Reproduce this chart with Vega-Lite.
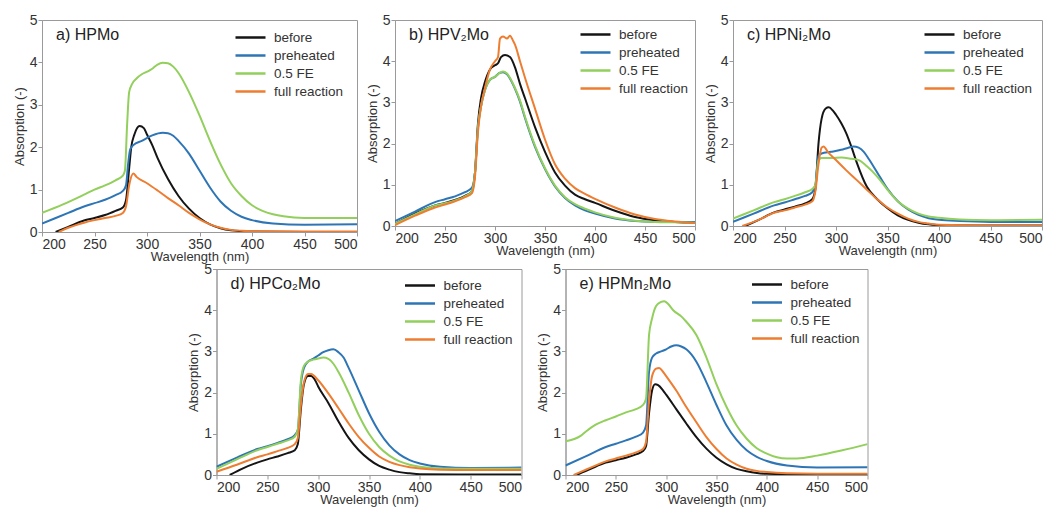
{
  "$schema": "https://vega.github.io/schema/vega-lite/v6.json",
  "padding": {"left": 12, "top": 12, "right": 0, "bottom": 0},
  "background": "white",
  "config": {
    "font": "Liberation Sans",
    "view": {"stroke": "#9a9a9a", "strokeWidth": 1},
    "axis": {"grid": false, "labelFont": "Liberation Sans", "labelFontSize": 14, "labelColor": "#333333", "titleFont": "Liberation Sans", "titleFontSize": 13, "titleFontWeight": "normal", "titleColor": "#333333", "domainColor": "#9a9a9a", "tickColor": "#9a9a9a", "tickSize": 4, "labelPadding": 1},
    "axisX": {"titlePadding": -1},
    "axisY": {"titlePadding": 3},
    "legend": {"orient": "none", "legendX": 186, "legendY": 0, "title": null, "labelFont": "Liberation Sans", "labelFontSize": 13.5, "labelColor": "#333333", "symbolType": "M-1.5,0H1.5", "symbolSize": 400, "symbolStrokeWidth": 2.5, "rowPadding": -1.3, "labelOffset": 12},
    "title": {"anchor": "start", "frame": "group", "offset": -30, "dx": 14, "fontSize": 16, "fontWeight": "normal", "font": "Liberation Sans", "color": "#222222"}
  },
  "data": {"values": [
    {"p":"a","s":"before","w":213,"A":0},{"p":"a","s":"before","w":225,"A":0.12},{"p":"a","s":"before","w":240,"A":0.27},{"p":"a","s":"before","w":250,"A":0.33},{"p":"a","s":"before","w":260,"A":0.4},{"p":"a","s":"before","w":270,"A":0.5},{"p":"a","s":"before","w":277,"A":0.58},{"p":"a","s":"before","w":280,"A":0.75},{"p":"a","s":"before","w":283,"A":1.5},{"p":"a","s":"before","w":285,"A":2.0},{"p":"a","s":"before","w":288,"A":2.3},{"p":"a","s":"before","w":293,"A":2.5},{"p":"a","s":"before","w":297,"A":2.45},{"p":"a","s":"before","w":300,"A":2.3},{"p":"a","s":"before","w":305,"A":2.05},{"p":"a","s":"before","w":310,"A":1.75},{"p":"a","s":"before","w":320,"A":1.25},{"p":"a","s":"before","w":330,"A":0.85},{"p":"a","s":"before","w":340,"A":0.55},{"p":"a","s":"before","w":350,"A":0.33},{"p":"a","s":"before","w":360,"A":0.18},{"p":"a","s":"before","w":370,"A":0.09},{"p":"a","s":"before","w":380,"A":0.04},{"p":"a","s":"before","w":390,"A":0.02},{"p":"a","s":"before","w":400,"A":0.01},{"p":"a","s":"before","w":450,"A":0},{"p":"a","s":"before","w":500,"A":0},
    {"p":"a","s":"preheated","w":200,"A":0.2},{"p":"a","s":"preheated","w":225,"A":0.45},{"p":"a","s":"preheated","w":240,"A":0.6},{"p":"a","s":"preheated","w":250,"A":0.68},{"p":"a","s":"preheated","w":260,"A":0.76},{"p":"a","s":"preheated","w":270,"A":0.87},{"p":"a","s":"preheated","w":277,"A":0.97},{"p":"a","s":"preheated","w":280,"A":1.1},{"p":"a","s":"preheated","w":282,"A":1.6},{"p":"a","s":"preheated","w":284,"A":1.95},{"p":"a","s":"preheated","w":287,"A":2.05},{"p":"a","s":"preheated","w":295,"A":2.15},{"p":"a","s":"preheated","w":305,"A":2.28},{"p":"a","s":"preheated","w":315,"A":2.34},{"p":"a","s":"preheated","w":320,"A":2.33},{"p":"a","s":"preheated","w":325,"A":2.27},{"p":"a","s":"preheated","w":330,"A":2.15},{"p":"a","s":"preheated","w":340,"A":1.85},{"p":"a","s":"preheated","w":350,"A":1.45},{"p":"a","s":"preheated","w":360,"A":1.05},{"p":"a","s":"preheated","w":370,"A":0.72},{"p":"a","s":"preheated","w":380,"A":0.5},{"p":"a","s":"preheated","w":390,"A":0.36},{"p":"a","s":"preheated","w":400,"A":0.28},{"p":"a","s":"preheated","w":420,"A":0.2},{"p":"a","s":"preheated","w":450,"A":0.17},{"p":"a","s":"preheated","w":500,"A":0.18},
    {"p":"a","s":"0.5 FE","w":200,"A":0.45},{"p":"a","s":"0.5 FE","w":220,"A":0.65},{"p":"a","s":"0.5 FE","w":240,"A":0.88},{"p":"a","s":"0.5 FE","w":250,"A":1.0},{"p":"a","s":"0.5 FE","w":260,"A":1.1},{"p":"a","s":"0.5 FE","w":270,"A":1.22},{"p":"a","s":"0.5 FE","w":277,"A":1.33},{"p":"a","s":"0.5 FE","w":279,"A":1.45},{"p":"a","s":"0.5 FE","w":281,"A":2.5},{"p":"a","s":"0.5 FE","w":283,"A":3.3},{"p":"a","s":"0.5 FE","w":286,"A":3.5},{"p":"a","s":"0.5 FE","w":290,"A":3.62},{"p":"a","s":"0.5 FE","w":295,"A":3.72},{"p":"a","s":"0.5 FE","w":300,"A":3.78},{"p":"a","s":"0.5 FE","w":305,"A":3.85},{"p":"a","s":"0.5 FE","w":310,"A":3.95},{"p":"a","s":"0.5 FE","w":315,"A":3.99},{"p":"a","s":"0.5 FE","w":320,"A":3.98},{"p":"a","s":"0.5 FE","w":325,"A":3.9},{"p":"a","s":"0.5 FE","w":330,"A":3.75},{"p":"a","s":"0.5 FE","w":340,"A":3.3},{"p":"a","s":"0.5 FE","w":350,"A":2.75},{"p":"a","s":"0.5 FE","w":360,"A":2.15},{"p":"a","s":"0.5 FE","w":370,"A":1.6},{"p":"a","s":"0.5 FE","w":380,"A":1.15},{"p":"a","s":"0.5 FE","w":390,"A":0.85},{"p":"a","s":"0.5 FE","w":400,"A":0.63},{"p":"a","s":"0.5 FE","w":410,"A":0.5},{"p":"a","s":"0.5 FE","w":420,"A":0.42},{"p":"a","s":"0.5 FE","w":430,"A":0.37},{"p":"a","s":"0.5 FE","w":450,"A":0.33},{"p":"a","s":"0.5 FE","w":500,"A":0.33},
    {"p":"a","s":"full reaction","w":216,"A":0},{"p":"a","s":"full reaction","w":225,"A":0.1},{"p":"a","s":"full reaction","w":240,"A":0.22},{"p":"a","s":"full reaction","w":250,"A":0.28},{"p":"a","s":"full reaction","w":260,"A":0.33},{"p":"a","s":"full reaction","w":270,"A":0.38},{"p":"a","s":"full reaction","w":277,"A":0.45},{"p":"a","s":"full reaction","w":280,"A":0.6},{"p":"a","s":"full reaction","w":283,"A":1.1},{"p":"a","s":"full reaction","w":287,"A":1.38},{"p":"a","s":"full reaction","w":290,"A":1.3},{"p":"a","s":"full reaction","w":300,"A":1.15},{"p":"a","s":"full reaction","w":310,"A":0.98},{"p":"a","s":"full reaction","w":320,"A":0.8},{"p":"a","s":"full reaction","w":330,"A":0.63},{"p":"a","s":"full reaction","w":340,"A":0.45},{"p":"a","s":"full reaction","w":350,"A":0.3},{"p":"a","s":"full reaction","w":360,"A":0.18},{"p":"a","s":"full reaction","w":370,"A":0.1},{"p":"a","s":"full reaction","w":380,"A":0.05},{"p":"a","s":"full reaction","w":390,"A":0.03},{"p":"a","s":"full reaction","w":400,"A":0.02},{"p":"a","s":"full reaction","w":450,"A":0.01},{"p":"a","s":"full reaction","w":500,"A":0.01},

    {"p":"b","s":"before","w":200,"A":0.05},{"p":"b","s":"before","w":220,"A":0.3},{"p":"b","s":"before","w":240,"A":0.5},{"p":"b","s":"before","w":250,"A":0.56},{"p":"b","s":"before","w":260,"A":0.63},{"p":"b","s":"before","w":270,"A":0.73},{"p":"b","s":"before","w":277,"A":0.85},{"p":"b","s":"before","w":280,"A":1.3},{"p":"b","s":"before","w":283,"A":2.5},{"p":"b","s":"before","w":286,"A":3.1},{"p":"b","s":"before","w":290,"A":3.5},{"p":"b","s":"before","w":295,"A":3.8},{"p":"b","s":"before","w":300,"A":3.9},{"p":"b","s":"before","w":303,"A":3.95},{"p":"b","s":"before","w":306,"A":4.1},{"p":"b","s":"before","w":310,"A":4.15},{"p":"b","s":"before","w":315,"A":4.1},{"p":"b","s":"before","w":320,"A":3.85},{"p":"b","s":"before","w":325,"A":3.45},{"p":"b","s":"before","w":330,"A":3.1},{"p":"b","s":"before","w":340,"A":2.4},{"p":"b","s":"before","w":350,"A":1.8},{"p":"b","s":"before","w":360,"A":1.3},{"p":"b","s":"before","w":370,"A":0.98},{"p":"b","s":"before","w":380,"A":0.76},{"p":"b","s":"before","w":390,"A":0.65},{"p":"b","s":"before","w":400,"A":0.56},{"p":"b","s":"before","w":420,"A":0.37},{"p":"b","s":"before","w":440,"A":0.22},{"p":"b","s":"before","w":460,"A":0.14},{"p":"b","s":"before","w":480,"A":0.1},{"p":"b","s":"before","w":500,"A":0.08},
    {"p":"b","s":"preheated","w":200,"A":0.12},{"p":"b","s":"preheated","w":220,"A":0.35},{"p":"b","s":"preheated","w":240,"A":0.58},{"p":"b","s":"preheated","w":250,"A":0.65},{"p":"b","s":"preheated","w":260,"A":0.72},{"p":"b","s":"preheated","w":270,"A":0.82},{"p":"b","s":"preheated","w":277,"A":0.93},{"p":"b","s":"preheated","w":280,"A":1.3},{"p":"b","s":"preheated","w":283,"A":2.4},{"p":"b","s":"preheated","w":286,"A":2.9},{"p":"b","s":"preheated","w":290,"A":3.3},{"p":"b","s":"preheated","w":295,"A":3.55},{"p":"b","s":"preheated","w":300,"A":3.62},{"p":"b","s":"preheated","w":305,"A":3.72},{"p":"b","s":"preheated","w":308,"A":3.73},{"p":"b","s":"preheated","w":312,"A":3.68},{"p":"b","s":"preheated","w":320,"A":3.33},{"p":"b","s":"preheated","w":325,"A":3.02},{"p":"b","s":"preheated","w":330,"A":2.62},{"p":"b","s":"preheated","w":340,"A":1.92},{"p":"b","s":"preheated","w":350,"A":1.38},{"p":"b","s":"preheated","w":360,"A":0.96},{"p":"b","s":"preheated","w":370,"A":0.68},{"p":"b","s":"preheated","w":380,"A":0.5},{"p":"b","s":"preheated","w":390,"A":0.38},{"p":"b","s":"preheated","w":400,"A":0.3},{"p":"b","s":"preheated","w":420,"A":0.18},{"p":"b","s":"preheated","w":440,"A":0.12},{"p":"b","s":"preheated","w":460,"A":0.1},{"p":"b","s":"preheated","w":480,"A":0.1},{"p":"b","s":"preheated","w":500,"A":0.1},
    {"p":"b","s":"0.5 FE","w":200,"A":0.05},{"p":"b","s":"0.5 FE","w":220,"A":0.28},{"p":"b","s":"0.5 FE","w":240,"A":0.5},{"p":"b","s":"0.5 FE","w":250,"A":0.55},{"p":"b","s":"0.5 FE","w":260,"A":0.62},{"p":"b","s":"0.5 FE","w":270,"A":0.72},{"p":"b","s":"0.5 FE","w":277,"A":0.85},{"p":"b","s":"0.5 FE","w":280,"A":1.3},{"p":"b","s":"0.5 FE","w":283,"A":2.4},{"p":"b","s":"0.5 FE","w":286,"A":2.9},{"p":"b","s":"0.5 FE","w":290,"A":3.3},{"p":"b","s":"0.5 FE","w":295,"A":3.55},{"p":"b","s":"0.5 FE","w":300,"A":3.62},{"p":"b","s":"0.5 FE","w":305,"A":3.72},{"p":"b","s":"0.5 FE","w":308,"A":3.75},{"p":"b","s":"0.5 FE","w":312,"A":3.7},{"p":"b","s":"0.5 FE","w":320,"A":3.35},{"p":"b","s":"0.5 FE","w":325,"A":3.05},{"p":"b","s":"0.5 FE","w":330,"A":2.65},{"p":"b","s":"0.5 FE","w":340,"A":1.95},{"p":"b","s":"0.5 FE","w":350,"A":1.4},{"p":"b","s":"0.5 FE","w":360,"A":0.98},{"p":"b","s":"0.5 FE","w":370,"A":0.7},{"p":"b","s":"0.5 FE","w":380,"A":0.53},{"p":"b","s":"0.5 FE","w":390,"A":0.42},{"p":"b","s":"0.5 FE","w":400,"A":0.33},{"p":"b","s":"0.5 FE","w":420,"A":0.2},{"p":"b","s":"0.5 FE","w":440,"A":0.13},{"p":"b","s":"0.5 FE","w":460,"A":0.1},{"p":"b","s":"0.5 FE","w":480,"A":0.09},{"p":"b","s":"0.5 FE","w":500,"A":0.08},
    {"p":"b","s":"full reaction","w":200,"A":0.02},{"p":"b","s":"full reaction","w":220,"A":0.25},{"p":"b","s":"full reaction","w":240,"A":0.45},{"p":"b","s":"full reaction","w":250,"A":0.52},{"p":"b","s":"full reaction","w":260,"A":0.6},{"p":"b","s":"full reaction","w":270,"A":0.7},{"p":"b","s":"full reaction","w":277,"A":0.8},{"p":"b","s":"full reaction","w":280,"A":1.2},{"p":"b","s":"full reaction","w":283,"A":2.3},{"p":"b","s":"full reaction","w":286,"A":2.9},{"p":"b","s":"full reaction","w":290,"A":3.35},{"p":"b","s":"full reaction","w":295,"A":3.8},{"p":"b","s":"full reaction","w":300,"A":4.0},{"p":"b","s":"full reaction","w":303,"A":4.1},{"p":"b","s":"full reaction","w":305,"A":4.55},{"p":"b","s":"full reaction","w":308,"A":4.6},{"p":"b","s":"full reaction","w":312,"A":4.55},{"p":"b","s":"full reaction","w":315,"A":4.62},{"p":"b","s":"full reaction","w":318,"A":4.5},{"p":"b","s":"full reaction","w":320,"A":4.4},{"p":"b","s":"full reaction","w":325,"A":4.0},{"p":"b","s":"full reaction","w":330,"A":3.6},{"p":"b","s":"full reaction","w":340,"A":2.85},{"p":"b","s":"full reaction","w":350,"A":2.1},{"p":"b","s":"full reaction","w":360,"A":1.5},{"p":"b","s":"full reaction","w":370,"A":1.15},{"p":"b","s":"full reaction","w":380,"A":0.92},{"p":"b","s":"full reaction","w":390,"A":0.78},{"p":"b","s":"full reaction","w":400,"A":0.66},{"p":"b","s":"full reaction","w":420,"A":0.45},{"p":"b","s":"full reaction","w":440,"A":0.28},{"p":"b","s":"full reaction","w":460,"A":0.17},{"p":"b","s":"full reaction","w":480,"A":0.11},{"p":"b","s":"full reaction","w":500,"A":0.07},

    {"p":"c","s":"before","w":212,"A":0},{"p":"c","s":"before","w":225,"A":0.15},{"p":"c","s":"before","w":240,"A":0.33},{"p":"c","s":"before","w":250,"A":0.4},{"p":"c","s":"before","w":260,"A":0.47},{"p":"c","s":"before","w":270,"A":0.55},{"p":"c","s":"before","w":277,"A":0.65},{"p":"c","s":"before","w":280,"A":0.9},{"p":"c","s":"before","w":283,"A":2.0},{"p":"c","s":"before","w":286,"A":2.6},{"p":"c","s":"before","w":290,"A":2.85},{"p":"c","s":"before","w":293,"A":2.88},{"p":"c","s":"before","w":297,"A":2.8},{"p":"c","s":"before","w":300,"A":2.7},{"p":"c","s":"before","w":305,"A":2.5},{"p":"c","s":"before","w":310,"A":2.25},{"p":"c","s":"before","w":315,"A":1.92},{"p":"c","s":"before","w":320,"A":1.55},{"p":"c","s":"before","w":330,"A":0.95},{"p":"c","s":"before","w":340,"A":0.65},{"p":"c","s":"before","w":350,"A":0.43},{"p":"c","s":"before","w":360,"A":0.26},{"p":"c","s":"before","w":370,"A":0.15},{"p":"c","s":"before","w":380,"A":0.08},{"p":"c","s":"before","w":390,"A":0.04},{"p":"c","s":"before","w":400,"A":0.02},{"p":"c","s":"before","w":450,"A":0.01},{"p":"c","s":"before","w":500,"A":0.01},
    {"p":"c","s":"preheated","w":200,"A":0.1},{"p":"c","s":"preheated","w":220,"A":0.3},{"p":"c","s":"preheated","w":240,"A":0.5},{"p":"c","s":"preheated","w":250,"A":0.57},{"p":"c","s":"preheated","w":260,"A":0.65},{"p":"c","s":"preheated","w":270,"A":0.73},{"p":"c","s":"preheated","w":277,"A":0.82},{"p":"c","s":"preheated","w":280,"A":1.0},{"p":"c","s":"preheated","w":283,"A":1.7},{"p":"c","s":"preheated","w":286,"A":1.76},{"p":"c","s":"preheated","w":295,"A":1.8},{"p":"c","s":"preheated","w":305,"A":1.85},{"p":"c","s":"preheated","w":312,"A":1.9},{"p":"c","s":"preheated","w":317,"A":1.93},{"p":"c","s":"preheated","w":322,"A":1.9},{"p":"c","s":"preheated","w":327,"A":1.8},{"p":"c","s":"preheated","w":332,"A":1.62},{"p":"c","s":"preheated","w":340,"A":1.3},{"p":"c","s":"preheated","w":350,"A":0.9},{"p":"c","s":"preheated","w":360,"A":0.6},{"p":"c","s":"preheated","w":370,"A":0.4},{"p":"c","s":"preheated","w":380,"A":0.27},{"p":"c","s":"preheated","w":390,"A":0.19},{"p":"c","s":"preheated","w":400,"A":0.15},{"p":"c","s":"preheated","w":420,"A":0.12},{"p":"c","s":"preheated","w":450,"A":0.1},{"p":"c","s":"preheated","w":500,"A":0.1},
    {"p":"c","s":"0.5 FE","w":200,"A":0.18},{"p":"c","s":"0.5 FE","w":220,"A":0.38},{"p":"c","s":"0.5 FE","w":240,"A":0.58},{"p":"c","s":"0.5 FE","w":250,"A":0.65},{"p":"c","s":"0.5 FE","w":260,"A":0.73},{"p":"c","s":"0.5 FE","w":270,"A":0.82},{"p":"c","s":"0.5 FE","w":277,"A":0.9},{"p":"c","s":"0.5 FE","w":280,"A":1.0},{"p":"c","s":"0.5 FE","w":283,"A":1.6},{"p":"c","s":"0.5 FE","w":286,"A":1.65},{"p":"c","s":"0.5 FE","w":295,"A":1.65},{"p":"c","s":"0.5 FE","w":305,"A":1.66},{"p":"c","s":"0.5 FE","w":315,"A":1.63},{"p":"c","s":"0.5 FE","w":322,"A":1.6},{"p":"c","s":"0.5 FE","w":330,"A":1.45},{"p":"c","s":"0.5 FE","w":340,"A":1.2},{"p":"c","s":"0.5 FE","w":350,"A":0.88},{"p":"c","s":"0.5 FE","w":360,"A":0.6},{"p":"c","s":"0.5 FE","w":370,"A":0.42},{"p":"c","s":"0.5 FE","w":380,"A":0.3},{"p":"c","s":"0.5 FE","w":390,"A":0.23},{"p":"c","s":"0.5 FE","w":400,"A":0.2},{"p":"c","s":"0.5 FE","w":420,"A":0.16},{"p":"c","s":"0.5 FE","w":450,"A":0.14},{"p":"c","s":"0.5 FE","w":500,"A":0.15},
    {"p":"c","s":"full reaction","w":209,"A":0},{"p":"c","s":"full reaction","w":225,"A":0.15},{"p":"c","s":"full reaction","w":240,"A":0.32},{"p":"c","s":"full reaction","w":250,"A":0.38},{"p":"c","s":"full reaction","w":260,"A":0.45},{"p":"c","s":"full reaction","w":270,"A":0.52},{"p":"c","s":"full reaction","w":277,"A":0.6},{"p":"c","s":"full reaction","w":280,"A":0.85},{"p":"c","s":"full reaction","w":283,"A":1.5},{"p":"c","s":"full reaction","w":286,"A":1.9},{"p":"c","s":"full reaction","w":288,"A":1.93},{"p":"c","s":"full reaction","w":292,"A":1.8},{"p":"c","s":"full reaction","w":300,"A":1.6},{"p":"c","s":"full reaction","w":310,"A":1.35},{"p":"c","s":"full reaction","w":320,"A":1.12},{"p":"c","s":"full reaction","w":330,"A":0.88},{"p":"c","s":"full reaction","w":340,"A":0.65},{"p":"c","s":"full reaction","w":350,"A":0.45},{"p":"c","s":"full reaction","w":360,"A":0.3},{"p":"c","s":"full reaction","w":370,"A":0.18},{"p":"c","s":"full reaction","w":380,"A":0.1},{"p":"c","s":"full reaction","w":390,"A":0.06},{"p":"c","s":"full reaction","w":400,"A":0.03},{"p":"c","s":"full reaction","w":450,"A":0.01},{"p":"c","s":"full reaction","w":500,"A":0.01},

    {"p":"d","s":"before","w":213,"A":0},{"p":"d","s":"before","w":225,"A":0.15},{"p":"d","s":"before","w":240,"A":0.3},{"p":"d","s":"before","w":250,"A":0.38},{"p":"d","s":"before","w":260,"A":0.45},{"p":"d","s":"before","w":270,"A":0.53},{"p":"d","s":"before","w":277,"A":0.6},{"p":"d","s":"before","w":280,"A":0.75},{"p":"d","s":"before","w":283,"A":1.6},{"p":"d","s":"before","w":286,"A":2.2},{"p":"d","s":"before","w":290,"A":2.4},{"p":"d","s":"before","w":293,"A":2.4},{"p":"d","s":"before","w":297,"A":2.3},{"p":"d","s":"before","w":300,"A":2.15},{"p":"d","s":"before","w":310,"A":1.75},{"p":"d","s":"before","w":320,"A":1.3},{"p":"d","s":"before","w":330,"A":0.9},{"p":"d","s":"before","w":340,"A":0.6},{"p":"d","s":"before","w":350,"A":0.38},{"p":"d","s":"before","w":360,"A":0.22},{"p":"d","s":"before","w":370,"A":0.13},{"p":"d","s":"before","w":380,"A":0.07},{"p":"d","s":"before","w":390,"A":0.04},{"p":"d","s":"before","w":400,"A":0.02},{"p":"d","s":"before","w":450,"A":0.01},{"p":"d","s":"before","w":500,"A":0.01},
    {"p":"d","s":"preheated","w":200,"A":0.2},{"p":"d","s":"preheated","w":220,"A":0.42},{"p":"d","s":"preheated","w":240,"A":0.63},{"p":"d","s":"preheated","w":250,"A":0.7},{"p":"d","s":"preheated","w":260,"A":0.78},{"p":"d","s":"preheated","w":270,"A":0.87},{"p":"d","s":"preheated","w":277,"A":0.97},{"p":"d","s":"preheated","w":280,"A":1.1},{"p":"d","s":"preheated","w":283,"A":2.2},{"p":"d","s":"preheated","w":286,"A":2.6},{"p":"d","s":"preheated","w":290,"A":2.75},{"p":"d","s":"preheated","w":295,"A":2.82},{"p":"d","s":"preheated","w":300,"A":2.9},{"p":"d","s":"preheated","w":305,"A":2.98},{"p":"d","s":"preheated","w":310,"A":3.03},{"p":"d","s":"preheated","w":315,"A":3.05},{"p":"d","s":"preheated","w":320,"A":2.98},{"p":"d","s":"preheated","w":325,"A":2.85},{"p":"d","s":"preheated","w":330,"A":2.6},{"p":"d","s":"preheated","w":340,"A":2.05},{"p":"d","s":"preheated","w":350,"A":1.5},{"p":"d","s":"preheated","w":360,"A":1.05},{"p":"d","s":"preheated","w":370,"A":0.72},{"p":"d","s":"preheated","w":380,"A":0.5},{"p":"d","s":"preheated","w":390,"A":0.36},{"p":"d","s":"preheated","w":400,"A":0.28},{"p":"d","s":"preheated","w":420,"A":0.2},{"p":"d","s":"preheated","w":450,"A":0.17},{"p":"d","s":"preheated","w":500,"A":0.18},
    {"p":"d","s":"0.5 FE","w":200,"A":0.15},{"p":"d","s":"0.5 FE","w":220,"A":0.38},{"p":"d","s":"0.5 FE","w":240,"A":0.6},{"p":"d","s":"0.5 FE","w":250,"A":0.68},{"p":"d","s":"0.5 FE","w":260,"A":0.76},{"p":"d","s":"0.5 FE","w":270,"A":0.84},{"p":"d","s":"0.5 FE","w":277,"A":0.93},{"p":"d","s":"0.5 FE","w":280,"A":1.1},{"p":"d","s":"0.5 FE","w":283,"A":2.3},{"p":"d","s":"0.5 FE","w":286,"A":2.65},{"p":"d","s":"0.5 FE","w":290,"A":2.75},{"p":"d","s":"0.5 FE","w":295,"A":2.8},{"p":"d","s":"0.5 FE","w":300,"A":2.83},{"p":"d","s":"0.5 FE","w":305,"A":2.85},{"p":"d","s":"0.5 FE","w":310,"A":2.82},{"p":"d","s":"0.5 FE","w":315,"A":2.7},{"p":"d","s":"0.5 FE","w":320,"A":2.5},{"p":"d","s":"0.5 FE","w":330,"A":2.0},{"p":"d","s":"0.5 FE","w":340,"A":1.45},{"p":"d","s":"0.5 FE","w":350,"A":1.0},{"p":"d","s":"0.5 FE","w":360,"A":0.68},{"p":"d","s":"0.5 FE","w":370,"A":0.47},{"p":"d","s":"0.5 FE","w":380,"A":0.33},{"p":"d","s":"0.5 FE","w":390,"A":0.25},{"p":"d","s":"0.5 FE","w":400,"A":0.2},{"p":"d","s":"0.5 FE","w":420,"A":0.16},{"p":"d","s":"0.5 FE","w":450,"A":0.15},{"p":"d","s":"0.5 FE","w":500,"A":0.15},
    {"p":"d","s":"full reaction","w":200,"A":0.08},{"p":"d","s":"full reaction","w":220,"A":0.25},{"p":"d","s":"full reaction","w":240,"A":0.43},{"p":"d","s":"full reaction","w":250,"A":0.5},{"p":"d","s":"full reaction","w":260,"A":0.58},{"p":"d","s":"full reaction","w":270,"A":0.66},{"p":"d","s":"full reaction","w":277,"A":0.75},{"p":"d","s":"full reaction","w":280,"A":0.9},{"p":"d","s":"full reaction","w":283,"A":1.7},{"p":"d","s":"full reaction","w":286,"A":2.25},{"p":"d","s":"full reaction","w":290,"A":2.45},{"p":"d","s":"full reaction","w":293,"A":2.45},{"p":"d","s":"full reaction","w":300,"A":2.3},{"p":"d","s":"full reaction","w":310,"A":1.98},{"p":"d","s":"full reaction","w":320,"A":1.62},{"p":"d","s":"full reaction","w":330,"A":1.25},{"p":"d","s":"full reaction","w":340,"A":0.92},{"p":"d","s":"full reaction","w":350,"A":0.66},{"p":"d","s":"full reaction","w":360,"A":0.45},{"p":"d","s":"full reaction","w":370,"A":0.32},{"p":"d","s":"full reaction","w":380,"A":0.24},{"p":"d","s":"full reaction","w":390,"A":0.19},{"p":"d","s":"full reaction","w":400,"A":0.16},{"p":"d","s":"full reaction","w":420,"A":0.13},{"p":"d","s":"full reaction","w":450,"A":0.12},{"p":"d","s":"full reaction","w":500,"A":0.12},

    {"p":"e","s":"before","w":211,"A":0},{"p":"e","s":"before","w":225,"A":0.15},{"p":"e","s":"before","w":240,"A":0.3},{"p":"e","s":"before","w":250,"A":0.36},{"p":"e","s":"before","w":260,"A":0.42},{"p":"e","s":"before","w":270,"A":0.5},{"p":"e","s":"before","w":277,"A":0.58},{"p":"e","s":"before","w":280,"A":0.7},{"p":"e","s":"before","w":283,"A":1.5},{"p":"e","s":"before","w":286,"A":2.05},{"p":"e","s":"before","w":289,"A":2.2},{"p":"e","s":"before","w":292,"A":2.18},{"p":"e","s":"before","w":297,"A":2.05},{"p":"e","s":"before","w":300,"A":1.95},{"p":"e","s":"before","w":310,"A":1.6},{"p":"e","s":"before","w":320,"A":1.25},{"p":"e","s":"before","w":330,"A":0.92},{"p":"e","s":"before","w":340,"A":0.64},{"p":"e","s":"before","w":350,"A":0.42},{"p":"e","s":"before","w":360,"A":0.26},{"p":"e","s":"before","w":370,"A":0.15},{"p":"e","s":"before","w":380,"A":0.09},{"p":"e","s":"before","w":390,"A":0.05},{"p":"e","s":"before","w":400,"A":0.03},{"p":"e","s":"before","w":450,"A":0.01},{"p":"e","s":"before","w":500,"A":0.01},
    {"p":"e","s":"preheated","w":200,"A":0.23},{"p":"e","s":"preheated","w":220,"A":0.45},{"p":"e","s":"preheated","w":240,"A":0.68},{"p":"e","s":"preheated","w":250,"A":0.76},{"p":"e","s":"preheated","w":260,"A":0.84},{"p":"e","s":"preheated","w":270,"A":0.93},{"p":"e","s":"preheated","w":277,"A":1.03},{"p":"e","s":"preheated","w":280,"A":1.2},{"p":"e","s":"preheated","w":283,"A":2.5},{"p":"e","s":"preheated","w":286,"A":2.85},{"p":"e","s":"preheated","w":290,"A":2.95},{"p":"e","s":"preheated","w":295,"A":3.0},{"p":"e","s":"preheated","w":300,"A":3.05},{"p":"e","s":"preheated","w":305,"A":3.12},{"p":"e","s":"preheated","w":310,"A":3.15},{"p":"e","s":"preheated","w":315,"A":3.12},{"p":"e","s":"preheated","w":320,"A":3.05},{"p":"e","s":"preheated","w":330,"A":2.75},{"p":"e","s":"preheated","w":340,"A":2.25},{"p":"e","s":"preheated","w":350,"A":1.7},{"p":"e","s":"preheated","w":360,"A":1.2},{"p":"e","s":"preheated","w":370,"A":0.85},{"p":"e","s":"preheated","w":380,"A":0.6},{"p":"e","s":"preheated","w":390,"A":0.44},{"p":"e","s":"preheated","w":400,"A":0.34},{"p":"e","s":"preheated","w":420,"A":0.23},{"p":"e","s":"preheated","w":450,"A":0.18},{"p":"e","s":"preheated","w":500,"A":0.19},
    {"p":"e","s":"0.5 FE","w":200,"A":0.82},{"p":"e","s":"0.5 FE","w":215,"A":0.95},{"p":"e","s":"0.5 FE","w":220,"A":1.05},{"p":"e","s":"0.5 FE","w":230,"A":1.22},{"p":"e","s":"0.5 FE","w":240,"A":1.33},{"p":"e","s":"0.5 FE","w":250,"A":1.42},{"p":"e","s":"0.5 FE","w":260,"A":1.52},{"p":"e","s":"0.5 FE","w":270,"A":1.6},{"p":"e","s":"0.5 FE","w":277,"A":1.7},{"p":"e","s":"0.5 FE","w":280,"A":1.85},{"p":"e","s":"0.5 FE","w":283,"A":3.4},{"p":"e","s":"0.5 FE","w":286,"A":3.8},{"p":"e","s":"0.5 FE","w":290,"A":4.1},{"p":"e","s":"0.5 FE","w":295,"A":4.2},{"p":"e","s":"0.5 FE","w":298,"A":4.22},{"p":"e","s":"0.5 FE","w":302,"A":4.15},{"p":"e","s":"0.5 FE","w":307,"A":4.0},{"p":"e","s":"0.5 FE","w":315,"A":3.85},{"p":"e","s":"0.5 FE","w":320,"A":3.72},{"p":"e","s":"0.5 FE","w":330,"A":3.4},{"p":"e","s":"0.5 FE","w":340,"A":2.85},{"p":"e","s":"0.5 FE","w":350,"A":2.2},{"p":"e","s":"0.5 FE","w":360,"A":1.65},{"p":"e","s":"0.5 FE","w":370,"A":1.2},{"p":"e","s":"0.5 FE","w":380,"A":0.88},{"p":"e","s":"0.5 FE","w":390,"A":0.65},{"p":"e","s":"0.5 FE","w":400,"A":0.52},{"p":"e","s":"0.5 FE","w":410,"A":0.43},{"p":"e","s":"0.5 FE","w":420,"A":0.4},{"p":"e","s":"0.5 FE","w":430,"A":0.4},{"p":"e","s":"0.5 FE","w":450,"A":0.47},{"p":"e","s":"0.5 FE","w":475,"A":0.6},{"p":"e","s":"0.5 FE","w":500,"A":0.75},
    {"p":"e","s":"full reaction","w":208,"A":0},{"p":"e","s":"full reaction","w":225,"A":0.18},{"p":"e","s":"full reaction","w":240,"A":0.33},{"p":"e","s":"full reaction","w":250,"A":0.4},{"p":"e","s":"full reaction","w":260,"A":0.47},{"p":"e","s":"full reaction","w":270,"A":0.55},{"p":"e","s":"full reaction","w":277,"A":0.63},{"p":"e","s":"full reaction","w":280,"A":0.8},{"p":"e","s":"full reaction","w":283,"A":1.8},{"p":"e","s":"full reaction","w":286,"A":2.4},{"p":"e","s":"full reaction","w":290,"A":2.58},{"p":"e","s":"full reaction","w":293,"A":2.6},{"p":"e","s":"full reaction","w":297,"A":2.5},{"p":"e","s":"full reaction","w":300,"A":2.4},{"p":"e","s":"full reaction","w":310,"A":2.05},{"p":"e","s":"full reaction","w":320,"A":1.65},{"p":"e","s":"full reaction","w":330,"A":1.28},{"p":"e","s":"full reaction","w":340,"A":0.92},{"p":"e","s":"full reaction","w":350,"A":0.63},{"p":"e","s":"full reaction","w":360,"A":0.4},{"p":"e","s":"full reaction","w":370,"A":0.25},{"p":"e","s":"full reaction","w":380,"A":0.15},{"p":"e","s":"full reaction","w":390,"A":0.1},{"p":"e","s":"full reaction","w":400,"A":0.07},{"p":"e","s":"full reaction","w":420,"A":0.04},{"p":"e","s":"full reaction","w":450,"A":0.03},{"p":"e","s":"full reaction","w":500,"A":0.03}
  ]},
  "vconcat": [
    {
      "hconcat": [
        {"width": 315, "height": 212, "title": "a) HPMo", "transform": [{"filter": "datum.p === 'a'"}],
         "mark": {"type": "line", "strokeWidth": 2, "interpolate": "monotone", "clip": true},
         "encoding": {
           "x": {"field": "w", "type": "quantitative", "scale": {"domain": [200, 500], "nice": false}, "axis": {"values": [200,250,300,350,400,450,500], "title": "Wavelength (nm)"}},
           "y": {"field": "A", "type": "quantitative", "scale": {"domain": [0, 5], "nice": false}, "axis": {"values": [0,1,2,3,4,5], "title": "Absorption (-)"}},
           "color": {"field": "s", "type": "nominal", "scale": {"domain": ["before","preheated","0.5 FE","full reaction"], "range": ["#151515","#2e75b6","#92cf5c","#ed7d31"]}, "sort": null, "legend": {"legendX": 197, "legendY": 6}}
         }},
        {"width": 300, "height": 206, "title": "b) HPV₂Mo", "transform": [{"filter": "datum.p === 'b'"}],
         "mark": {"type": "line", "strokeWidth": 2, "interpolate": "monotone", "clip": true},
         "encoding": {
           "x": {"field": "w", "type": "quantitative", "scale": {"domain": [200, 500], "nice": false}, "axis": {"values": [200,250,300,350,400,450,500], "title": "Wavelength (nm)"}},
           "y": {"field": "A", "type": "quantitative", "scale": {"domain": [0, 5], "nice": false}, "axis": {"values": [0,1,2,3,4,5], "title": "Absorption (-)"}},
           "color": {"field": "s", "type": "nominal", "scale": {"domain": ["before","preheated","0.5 FE","full reaction"], "range": ["#151515","#2e75b6","#92cf5c","#ed7d31"]}, "sort": null, "legend": {"legendX": 189, "legendY": 3}}
         }},
        {"width": 309, "height": 206, "title": "c) HPNi₂Mo", "transform": [{"filter": "datum.p === 'c'"}],
         "mark": {"type": "line", "strokeWidth": 2, "interpolate": "monotone", "clip": true},
         "encoding": {
           "x": {"field": "w", "type": "quantitative", "scale": {"domain": [200, 500], "nice": false}, "axis": {"values": [200,250,300,350,400,450,500], "title": "Wavelength (nm)"}},
           "y": {"field": "A", "type": "quantitative", "scale": {"domain": [0, 5], "nice": false}, "axis": {"values": [0,1,2,3,4,5], "title": "Absorption (-)"}},
           "color": {"field": "s", "type": "nominal", "scale": {"domain": ["before","preheated","0.5 FE","full reaction"], "range": ["#151515","#2e75b6","#92cf5c","#ed7d31"]}, "sort": null, "legend": {"legendX": 195, "legendY": 3}}
         }}
      ],
      "spacing": 38,
      "bounds": "flush",
      "resolve": {"scale": {"color": "independent"}, "legend": {"color": "independent"}}
    },
    {
      "hconcat": [
        {"width": 305, "height": 206, "title": "d) HPCo₂Mo", "transform": [{"filter": "datum.p === 'd'"}],
         "mark": {"type": "line", "strokeWidth": 2, "interpolate": "monotone", "clip": true},
         "encoding": {
           "x": {"field": "w", "type": "quantitative", "scale": {"domain": [200, 500], "nice": false}, "axis": {"values": [200,250,300,350,400,450,500], "title": "Wavelength (nm)"}},
           "y": {"field": "A", "type": "quantitative", "scale": {"domain": [0, 5], "nice": false}, "axis": {"values": [0,1,2,3,4,5], "title": "Absorption (-)"}},
           "color": {"field": "s", "type": "nominal", "scale": {"domain": ["before","preheated","0.5 FE","full reaction"], "range": ["#151515","#2e75b6","#92cf5c","#ed7d31"]}, "sort": null, "legend": {"legendX": 192, "legendY": 5}}
         }},
        {"width": 302, "height": 206, "title": "e) HPMn₂Mo", "transform": [{"filter": "datum.p === 'e'"}],
         "mark": {"type": "line", "strokeWidth": 2, "interpolate": "monotone", "clip": true},
         "encoding": {
           "x": {"field": "w", "type": "quantitative", "scale": {"domain": [200, 500], "nice": false}, "axis": {"values": [200,250,300,350,400,450,500], "title": "Wavelength (nm)"}},
           "y": {"field": "A", "type": "quantitative", "scale": {"domain": [0, 5], "nice": false}, "axis": {"values": [0,1,2,3,4,5], "title": "Absorption (-)"}},
           "color": {"field": "s", "type": "nominal", "scale": {"domain": ["before","preheated","0.5 FE","full reaction"], "range": ["#151515","#2e75b6","#92cf5c","#ed7d31"]}, "sort": null, "legend": {"legendX": 190, "legendY": 4}}
         }}
      ],
      "spacing": 44,
      "bounds": "flush",
      "resolve": {"scale": {"color": "independent"}, "legend": {"color": "independent"}}
    }
  ],
  "spacing": -3,
  "center": true,
  "resolve": {"scale": {"color": "independent"}, "legend": {"color": "independent"}}
}
